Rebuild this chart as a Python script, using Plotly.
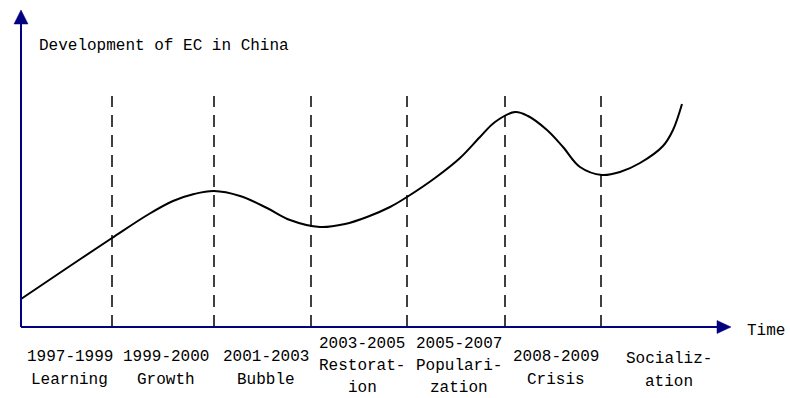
import plotly.graph_objects as go

# ---- data (x: time position, y: development level) ----
curve_x = [0, 46, 91, 128, 152, 173, 193, 219, 246, 269, 299, 324, 346, 369, 386,
           414, 439, 459, 474, 494, 507, 526, 542, 559, 581, 599, 619, 642, 652, 661]
curve_y = [28, 59, 89, 113, 126, 133, 136, 131, 119, 107, 100, 103, 110, 120, 130,
           149, 169, 190, 205, 215, 211, 197, 180, 160, 152, 155, 164, 181, 197, 223]
boundaries = [91, 193, 290, 386, 484, 580]
period_years = ["1997-1999", "1999-2000", "2001-2003", "2003-2005", "2005-2007", "2008-2009", ""]
period_names = [["Learning"], ["Growth"], ["Bubble"], ["Restorat-", "ion"],
                ["Populari-", "zation"], ["Crisis"], ["Socializ-", "ation"]]
title_text = "Development of EC in China"
x_label = "Time"

# layout geometry (1 data unit = 1 pixel)
X_MAX, Y_MAX = 710, 317
W, H = 790, 398
X0_PX, Y0_PX = 21, 327          # origin position inside the figure
AXIS_COLOR = "#000080"
FONT = dict(family="Liberation Mono, Courier New, monospace", size=16, color="#000000")

fig = go.Figure()
fig.add_trace(go.Scatter(x=curve_x, y=curve_y, mode="lines",
                         line=dict(color="black", width=2, shape="spline", smoothing=1),
                         hoverinfo="skip", showlegend=False))

shapes = []
for b in boundaries:
    shapes.append(dict(type="line", xref="x", yref="y", x0=b, x1=b, y0=0, y1=231,
                       line=dict(color="black", width=1.5, dash="12px,8px")))
# axes
AH = 14  # arrow head length
shapes.append(dict(type="line", xref="x", yref="y", x0=0, x1=0, y0=0, y1=Y_MAX - AH,
                   line=dict(color=AXIS_COLOR, width=2)))
shapes.append(dict(type="line", xref="x", yref="y", x0=0, x1=X_MAX - AH, y0=0, y1=0,
                   line=dict(color=AXIS_COLOR, width=2)))
# arrow heads
shapes.append(dict(type="path", xref="x", yref="y",
                   path=f"M-7,{Y_MAX - AH} L7,{Y_MAX - AH} L0,{Y_MAX} Z",
                   fillcolor=AXIS_COLOR, line=dict(color=AXIS_COLOR, width=0.5)))
shapes.append(dict(type="path", xref="x", yref="y",
                   path=f"M{X_MAX - AH},-6.5 L{X_MAX - AH},6.5 L{X_MAX},0 Z",
                   fillcolor=AXIS_COLOR, line=dict(color=AXIS_COLOR, width=0.5)))

annotations = [
    dict(x=16, y=281, xref="x", yref="y", text=title_text, showarrow=False,
         xanchor="left", yanchor="middle", font=FONT),
    dict(x=724, y=-4, xref="x", yref="y", text=x_label, showarrow=False,
         xanchor="left", yanchor="middle", font=FONT),
]
edges = [0] + boundaries + [X_MAX]
for i, (yr, names) in enumerate(zip(period_years, period_names)):
    lines = ([yr] if yr else []) + names
    cx = (edges[i] + edges[i + 1]) / 2 + 3
    n = len(lines)
    if n == 3:
        center, gap = -39, 22
    else:
        center, gap = (-41.5 if yr else -43), 23
    for k, t in enumerate(lines):
        yy = center + ((n - 1) / 2 - k) * gap
        annotations.append(dict(x=cx, y=yy, xref="x", yref="y", text=t, showarrow=False,
                                xanchor="center", yanchor="middle", font=FONT))

fig.update_layout(
    width=W, height=H, margin=dict(l=0, r=0, t=0, b=0),
    paper_bgcolor="white", plot_bgcolor="white",
    xaxis=dict(range=[-X0_PX, W - X0_PX], domain=[0, 1], visible=False, fixedrange=True),
    yaxis=dict(range=[-(H - Y0_PX), Y0_PX], domain=[0, 1], visible=False, fixedrange=True),
    shapes=shapes, annotations=annotations, showlegend=False,
)
fig.write_html("out.html", config={"displayModeBar": False},
               post_script="document.body.style.margin='0';document.body.style.overflow='hidden';")
